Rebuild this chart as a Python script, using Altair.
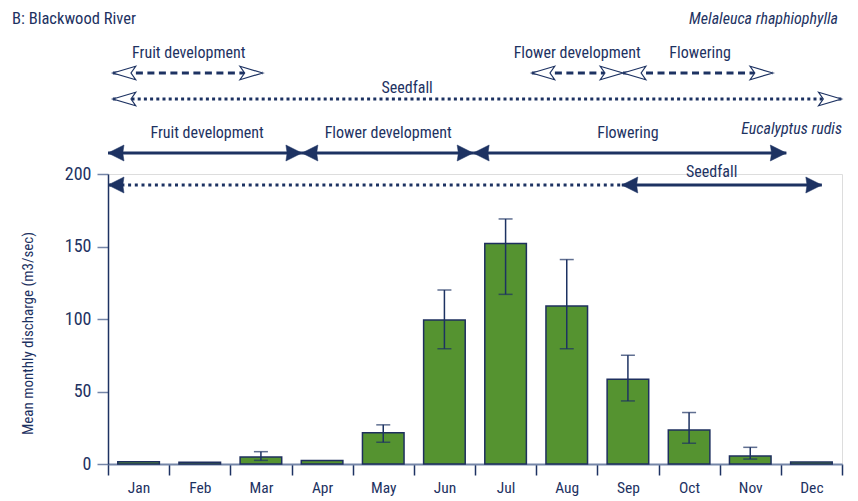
import altair as alt
import pandas as pd

# ---------------- data ----------------
months = ["Jan", "Feb", "Mar", "Apr", "May", "Jun", "Jul", "Aug", "Sep", "Oct", "Nov", "Dec"]
discharge = [1.5, 1.2, 4.8, 2.5, 21.6, 99.3, 152.0, 109.0, 58.5, 23.5, 5.5, 1.3]
err_low = [None, None, 2.5, None, 15.0, 79.5, 117.0, 79.5, 43.5, 14.3, 3.4, None]
err_high = [None, None, 8.5, None, 27.0, 120.0, 169.0, 141.0, 75.0, 35.5, 11.5, None]

# Eucalyptus rudis phenology (positions in months from 1 Jan)
euc_phase = ["Fruit development", "Flower development", "Flowering"]
euc_phase_start = [0.0, 3.17, 5.97]
euc_phase_end = [3.17, 5.97, 11.09]
euc_phase_label_x = [1.62, 4.58, 8.5]
euc_seed_dotted = [0.0, 8.40]
euc_seed_solid = [8.40, 11.67]
euc_seed_label_x = 9.87

# Melaleuca rhaphiophylla phenology
mel_phase = ["Fruit development", "Flower development", "Flowering"]
mel_phase_start = [0.08, 6.93, 8.42]
mel_phase_end = [2.53, 8.42, 10.87]
mel_phase_label_x = [1.32, 7.67, 9.68]
mel_seed = [0.08, 11.99]
mel_seed_label_x = 4.89

# ---------------- style ----------------
FONT = "Roboto Condensed, Liberation Sans, Arial, sans-serif"
NAVY = "#1d3262"
GREYBLUE = "#7586a8"
GREEN = "#559330"
BAR_EDGE = "#1e2f5e"
TXT = 16

W, H = 734, 290
ROW_MEL_PHASE, ROW_MEL_SEED = -101, -75
ROW_EUC_PHASE, ROW_EUC_SEED = -21, 11

FILLED_R = "M0,0L-2,-1L-1.85,0L-2,1Z"
FILLED_L = "M0,0L2,-1L1.85,0L2,1Z"
OPEN_R = "M0,0L-3.4,-1L-2.7,0L-3.4,1Z"
OPEN_L = "M0,0L3.4,-1L2.7,0L3.4,1Z"

xq = alt.Scale(domain=[0, 12], nice=False, zero=False)
xb = alt.Scale(domain=months, paddingInner=0, paddingOuter=0)

bars_df = pd.DataFrame({"month": months, "value": discharge, "lo": err_low, "hi": err_high})
err_df = bars_df.dropna()
caps_df = pd.concat([
    err_df[["month", "lo"]].rename(columns={"lo": "v"}),
    err_df[["month", "hi"]].rename(columns={"hi": "v"}),
])

xband = alt.X(
    "month:N", sort=months, scale=xb,
    axis=alt.Axis(
        title=None, labelAngle=0, tickBand="extent", tickSize=11, tickColor=NAVY,
        tickWidth=1.5, domainColor=GREYBLUE, domainWidth=2, labelFont=FONT,
        labelFontSize=15.5, labelColor=NAVY, labelPadding=5, grid=False,
    ),
)
yscale = alt.Scale(domain=[0, 200], nice=False)

bars = alt.Chart(bars_df).mark_bar(
    width=alt.RelativeBandSize(0.68), fill=GREEN, stroke=BAR_EDGE, strokeWidth=1.5
).encode(
    x=xband,
    y=alt.Y("value:Q", scale=yscale, axis=alt.Axis(
        values=[0, 50, 100, 150, 200], tickSize=11, tickColor=GREYBLUE, tickWidth=1.5,
        domainColor=NAVY, domainWidth=1.5, labelFont=FONT, labelFontSize=18,
        labelColor=NAVY, labelPadding=6, grid=False,
        title="Mean monthly discharge (m3/sec)", titleFont=FONT, titleFontSize=15,
        titleFontWeight="normal", titleColor=NAVY, titleX=-81, titleY=159,
        titleBaseline="middle", titleAlign="center", titleAngle=-90,
    )),
)

xb_hidden = alt.X("month:N", sort=months, scale=xb, axis=None)

err_rule = alt.Chart(err_df).mark_rule(color=NAVY, strokeWidth=1.5).encode(
    x=xb_hidden, y=alt.Y("lo:Q", scale=yscale), y2="hi:Q"
)
caps = alt.Chart(caps_df).mark_tick(color=NAVY, size=14, thickness=1.5, orient="horizontal").encode(
    x=xb_hidden, y=alt.Y("v:Q", scale=yscale)
)


def seg_layer(starts, ends, row, dash, width=3):
    df = pd.DataFrame({"s": starts, "e": ends})
    return alt.Chart(df).mark_rule(color=NAVY, strokeWidth=width, strokeDash=dash, strokeCap="butt").encode(
        x=alt.X("s:Q", scale=xq, axis=None), x2="e:Q", y=alt.value(row)
    )


def head_layer(pos, row, shape, size, filled):
    df = pd.DataFrame({"p": pos})
    if filled:
        mk = alt.Chart(df).mark_point(shape=shape, size=size, filled=True, fill=NAVY,
                                      stroke=NAVY, strokeWidth=0.5, opacity=1)
    else:
        mk = alt.Chart(df).mark_point(shape=shape, size=size, filled=True, fill="white",
                                      stroke=NAVY, strokeWidth=1.2, opacity=1)
    return mk.encode(x=alt.X("p:Q", scale=xq, axis=None), y=alt.value(row))


def label_layer(texts, xs, row):
    df = pd.DataFrame({"t": texts, "x": xs})
    return alt.Chart(df).mark_text(
        font=FONT, fontSize=TXT, color=NAVY, baseline="middle", align="center"
    ).encode(x=alt.X("x:Q", scale=xq, axis=None), y=alt.value(row), text="t:N")


FS = 256   # filled head size
OS = 180   # open head size

layers = [
    bars, err_rule, caps,
    # Eucalyptus rudis
    seg_layer(euc_phase_start, euc_phase_end, ROW_EUC_PHASE, [1, 0]),
    seg_layer([euc_seed_dotted[0]], [euc_seed_dotted[1]], ROW_EUC_SEED, [3, 3.7]),
    seg_layer([euc_seed_solid[0]], [euc_seed_solid[1]], ROW_EUC_SEED, [1, 0]),
    head_layer(euc_phase_start, ROW_EUC_PHASE, FILLED_L, FS, True),
    head_layer(euc_phase_end, ROW_EUC_PHASE, FILLED_R, FS, True),
    head_layer([euc_seed_dotted[0], euc_seed_solid[0]], ROW_EUC_SEED, FILLED_L, FS, True),
    head_layer([euc_seed_solid[1]], ROW_EUC_SEED, FILLED_R, FS, True),
    # Melaleuca rhaphiophylla
    seg_layer(mel_phase_start, mel_phase_end, ROW_MEL_PHASE, [7, 4.5]),
    seg_layer([mel_seed[0]], [mel_seed[1]], ROW_MEL_SEED, [3, 3.2]),
    head_layer(mel_phase_start, ROW_MEL_PHASE, OPEN_L, OS, False),
    head_layer(mel_phase_end, ROW_MEL_PHASE, OPEN_R, OS, False),
    head_layer([mel_seed[0]], ROW_MEL_SEED, OPEN_L, OS, False),
    head_layer([mel_seed[1]], ROW_MEL_SEED, OPEN_R, OS, False),
    # labels
    label_layer(euc_phase, euc_phase_label_x, -41),
    label_layer(["Seedfall"], [euc_seed_label_x], -2),
    label_layer(mel_phase, mel_phase_label_x, -121),
    label_layer(["Seedfall"], [mel_seed_label_x], -86),
]

title_df = pd.DataFrame({
    "t": ["B: Blackwood River", "Melaleuca rhaphiophylla", "Eucalyptus rudis"],
})
titles = [
    alt.Chart(title_df.iloc[[0]]).mark_text(font=FONT, fontSize=16.5, color=NAVY, align="left",
                                            baseline="middle").encode(
        x=alt.value(-96), y=alt.value(-155), text="t:N"),
    alt.Chart(title_df.iloc[[1]]).mark_text(font=FONT, fontSize=TXT, color=NAVY, align="right",
                                            baseline="middle", fontStyle="italic").encode(
        x=alt.value(730), y=alt.value(-155), text="t:N"),
    alt.Chart(title_df.iloc[[2]]).mark_text(font=FONT, fontSize=TXT, color=NAVY, align="right",
                                            baseline="middle", fontStyle="italic").encode(
        x=alt.value(734), y=alt.value(-45), text="t:N"),
]

chart = alt.layer(*layers, *titles).resolve_scale(x="independent").properties(
    width=W, height=H,
    autosize=alt.AutoSizeParams(type="none"),
    padding={"left": 100, "top": 166, "right": 8, "bottom": 36},
).configure_view(stroke=None).configure(background="white")

chart.save("out.html", embed_options={"renderer": "svg", "actions": False})
